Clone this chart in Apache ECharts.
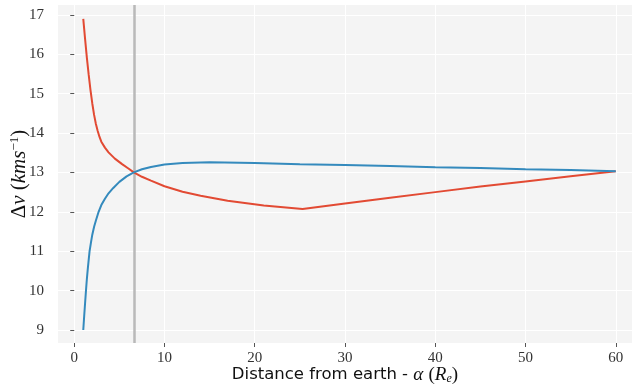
<!DOCTYPE html>
<html><head><meta charset="utf-8">
<script src="https://cdn.jsdelivr.net/npm/echarts@6/dist/echarts.min.js"></script>
<style>html,body{margin:0;padding:0;background:#fff}#c{width:633px;height:391px}</style>
</head><body><div id="c"></div>
<script>
const redAlpha = [1.0, 1.2, 1.4, 1.6, 1.8, 2.0, 2.2, 2.4, 2.6, 2.8, 3.0, 3.4, 3.8, 4.5, 5.3, 6.0, 6.6, 7.5, 8.5, 10, 12, 14, 17, 21, 25.3, 30, 35, 40, 45, 50, 55, 60];
const redDv = [16.9, 16.39, 15.91, 15.48, 15.09, 14.75, 14.46, 14.23, 14.05, 13.9, 13.78, 13.63, 13.51, 13.35, 13.21, 13.1, 13.0, 12.89, 12.79, 12.65, 12.51, 12.41, 12.28, 12.16, 12.07, 12.21, 12.36, 12.5, 12.64, 12.77, 12.9, 13.03];
const blueAlpha = [1.0, 1.1, 1.2, 1.3, 1.4, 1.5, 1.6, 1.7, 1.85, 2.0, 2.2, 2.4, 2.7, 3.0, 3.4, 3.8, 4.3, 5.0, 5.8, 6.6, 7.5, 8.5, 10, 12, 15, 20, 25, 30, 35, 40, 45, 50, 55, 60];
const blueDv = [9.0, 9.35, 9.68, 10.0, 10.3, 10.55, 10.78, 11.0, 11.22, 11.42, 11.62, 11.78, 12.0, 12.17, 12.33, 12.47, 12.6, 12.76, 12.9, 13.0, 13.08, 13.14, 13.2, 13.24, 13.26, 13.24, 13.21, 13.19, 13.16, 13.13, 13.11, 13.08, 13.06, 13.03];
const xTicks = [0, 10, 20, 30, 40, 50, 60];
const yTicks = [9, 10, 11, 12, 13, 14, 15, 16, 17];
const geoAlpha = 6.6;

const chart = echarts.init(document.getElementById('c'), null, {renderer: 'canvas'});
const zip = (a, b) => a.map((v, i) => [v, b[i]]);
const serif = '"Liberation Serif", "DejaVu Serif", serif';
chart.setOption({
  animation: false,
  backgroundColor: '#ffffff',
  grid: {left: 58, right: 1, top: 5, bottom: 48, show: true, backgroundColor: '#f4f4f4', borderWidth: 0,
         containLabel: false, outerBoundsMode: 'none'},
  xAxis: {
    type: 'value', min: -1.8, max: 61.8,
    axisLine: {show: false},
    axisTick: {show: true, length: 4, lineStyle: {color: '#555'}, customValues: xTicks},
    axisLabel: {customValues: xTicks, color: '#333', fontFamily: serif, fontSize: 15, margin: 8},
    splitLine: {show: true, lineStyle: {color: '#ffffff', width: 1}},
    name: '{s|Distance from earth - }{i|α}{s| }{p|(}{i|R}{sub|e}{p|)}',
    nameLocation: 'middle', nameGap: 22, nameMoveOverlap: false,
    nameTextStyle: {rich: {
      s: {fontFamily: '"DejaVu Sans", sans-serif', fontSize: 16.5, color: '#111'},
      i: {fontFamily: serif, fontStyle: 'italic', fontSize: 19, color: '#111'},
      p: {fontFamily: serif, fontSize: 19, color: '#111'},
      sub: {fontFamily: serif, fontStyle: 'italic', fontSize: 12, color: '#111', padding: [8, 0, 0, 0]}
    }}
  },
  yAxis: {
    type: 'value', min: 8.67, max: 17.25,
    axisLine: {show: false},
    axisTick: {show: true, length: 4, lineStyle: {color: '#555'}, customValues: yTicks},
    axisLabel: {customValues: yTicks, color: '#333', fontFamily: serif, fontSize: 15, margin: 14},
    splitLine: {show: true, lineStyle: {color: '#ffffff', width: 1}},
    name: '{p|Δ}{i|v}{p| (}{i|kms}{sup|−1}{p|)}',
    nameLocation: 'middle', nameGap: 27, nameRotate: 90, nameMoveOverlap: false,
    nameTextStyle: {rich: {
      i: {fontFamily: serif, fontStyle: 'italic', fontSize: 21, color: '#111'},
      p: {fontFamily: serif, fontSize: 21, color: '#111'},
      sup: {fontFamily: serif, fontSize: 13, color: '#111', padding: [0, 0, 10, 0]}
    }}
  },
  series: [
    {type: 'line', data: zip(redAlpha, redDv), showSymbol: false, smooth: false, z: 3,
     lineStyle: {color: '#E24A33', width: 2}, itemStyle: {color: '#E24A33'},
     markLine: {silent: true, symbol: 'none', label: {show: false}, z: 2,
       lineStyle: {color: '#b9b9b9', width: 2.5, type: 'solid'}, data: [{xAxis: geoAlpha}]}},
    {type: 'line', data: zip(blueAlpha, blueDv), showSymbol: false, smooth: false, z: 4,
     lineStyle: {color: '#348ABD', width: 2}, itemStyle: {color: '#348ABD'}}
  ]
});
</script></body></html>
